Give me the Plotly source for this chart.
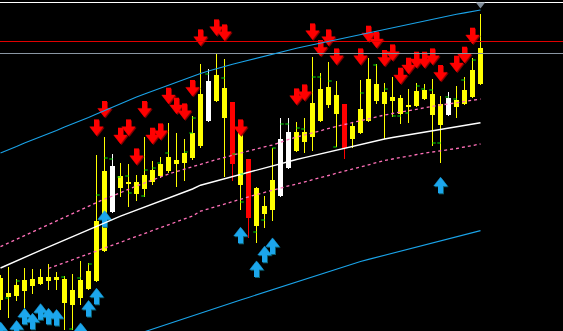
import plotly.graph_objects as go

# ---------------- data ----------------
bar_index = list(range(61))
open_ = [31, 34, 35, 40, 45, 47, 50, 51, 28, 26, 33, 42, 50, 80, 165, 143, 147, 137, 142, 149,
         155, 160, 167, 168, 173, 185, 250, 230, 213, 229, 146, 172, 105, 117, 121, 192, 199, 180, 189, 194,
         210, 226, 217, 227, 192, 198, 210, 230, 227, 230, 217, 224, 225, 232, 216, 206, 233, 224, 227, 234, 247]
high = [56, 64, 52, 63, 62, 62, 67, 59, 55, 57, 70, 68, 176, 194, 177, 168, 167, 156, 194, 170,
        174, 208, 198, 192, 215, 267, 262, 277, 272, 229, 205, 172, 144, 135, 183, 213, 213, 209, 213, 274,
        258, 269, 250, 227, 208, 251, 273, 267, 248, 254, 236, 242, 248, 247, 252, 235, 239, 245, 254, 273, 317]
low = [21, 13, 30, 23, 37, 46, 41, 41, 1, 1, 26, 41, 49, 79, 118, 134, 124, 130, 134, 146,
       153, 158, 144, 150, 171, 183, 209, 229, 154, 150, 121, 93, 88, 103, 110, 134, 162, 179, 178, 180,
       209, 223, 184, 172, 183, 197, 209, 227, 192, 214, 207, 208, 224, 231, 185, 168, 215, 213, 226, 233, 246]
close = [53, 38, 46, 51, 52, 54, 54, 54, 52, 41, 51, 60, 110, 160, 119, 155, 149, 149, 156, 161,
         167, 174, 171, 178, 198, 237, 210, 256, 243, 167, 198, 113, 143, 125, 151, 135, 163, 199, 199, 228,
         242, 244, 236, 183, 205, 222, 252, 247, 239, 234, 233, 226, 240, 241, 237, 227, 216, 231, 241, 261, 283]
candle_kind = list("YYYYYYYYYYYYYYWYYYYYYYYYYYWYYRYRYYYWWYYYYYYRYYYYYYYYYYYYWYYYY")

upper_blue = [178, 181, 184.5, 188, 191, 194, 197, 200.5, 204, 207, 210, 213.5, 217, 220.5, 224, 227, 230.5, 234, 237, 240,
              243, 246, 249, 252, 255, 257.5, 260, 262.5, 264.7, 266.8, 268.8, 270.9, 272.9, 275, 277, 279.2, 281, 282.8, 284.5, 286.2,
              287.9, 289.6, 291.4, 293.1, 294.8, 296.5, 298.3, 300, 301.7, 303.4, 305.2, 306.9, 308.6, 310.4, 312.1, 313.8, 315.2, 316.7, 318.1, 319.6, 321]
lower_blue = [None] * 17 + [-3.4, -0.7, 1.9,
              4.6, 7.2, 9.8, 12.5, 15.1, 17.8, 20.4, 23, 25.7, 28.3, 31, 33.6, 36.2, 38.8, 41.4, 44, 46.6, 49.2, 51.8, 54.4,
              57.2, 59.8, 62.4, 65, 67.4, 69.5, 71.6, 73.7, 75.8, 77.8, 80, 82, 84.1, 86.2, 88.3, 90.4, 92.4, 94.4, 96.4, 98.4, 100.4]
middle = [63, 66.7, 70.2, 73.7, 77.1, 80.6, 84.1, 87.6, 91.1, 94.6, 98.1, 101.6, 105.1, 108.6, 111.9, 114.9, 117.9, 120.9, 123.9, 126.9,
          129.9, 132.9, 135.9, 138.9, 142, 145.8, 148, 150.1, 152.3, 154.5, 156.6, 158.8, 160.9, 163.1, 165.2, 167.4, 169.5, 171.5, 173.4, 175.3,
          177.2, 179, 180.9, 182.7, 184.6, 186.4, 188.2, 190.1, 192, 193.5, 194.9, 196.3, 197.6, 199, 200.3, 201.7, 203, 204.3, 205.7, 207, 208.3]
upper_pink = [84.3, 88, 91.7, 95.4, 99.1, 102.8, 106.5, 110.2, 113.9, 117.6, 121.3, 125, 128.7, 132, 135, 138.5, 141.7, 145, 148, 151.2,
              154, 157, 159.5, 162, 164.5, 167, 169.2, 171.4, 173.6, 175.8, 178, 180.2, 182.4, 184.2, 186, 189, 191.5, 194, 196.2, 198.5,
              200.7, 202.8, 204.5, 206.5, 208.5, 210.5, 212.5, 214.4, 216, 217.5, 219, 220.4, 221.8, 223, 224.5, 226, 227, 228.3, 229.7, 231, 232]
lower_pink = [None] * 6 + [62.5, 65.4, 68.3, 71.2, 74, 77, 80, 83, 86, 89, 92, 95, 97.7, 100.5,
              103.4, 106.2, 109, 111.8, 115, 119.8, 122.3, 124.7, 127.2, 129.5, 131.8, 134.1, 136.4, 138.7, 141, 143.3, 145.1, 147, 149, 151,
              153.2, 155.5, 157.8, 160.1, 162.2, 164.1, 166.2, 168.4, 170.5, 172, 173.6, 175.2, 176.5, 177.8, 179, 180, 181.2, 182.5, 184, 185.5, 187]

sell_idx = [12, 13, 15, 16, 17, 18, 19, 20, 21, 22, 23, 24, 25, 27, 28, 30, 37, 38, 39, 40,
            41, 42, 45, 46, 47, 48, 49, 50, 51, 52, 53, 54, 55, 57, 58, 59]
sell_val = [203.3, 221.7, 195, 203.3, 174.3, 221.7, 195, 199.3, 235, 225, 219.3, 242.7, 293.3, 303.3, 298.3, 203.3, 234.3, 238.3, 299.3, 282.7,
            293.3, 274.3, 274.3, 297, 291, 272.7, 278.3, 255, 265, 271, 271, 274.3, 257.7, 267, 276, 295]
buy_idx = [0, 2, 3, 4, 5, 6, 7, 10, 11, 12, 13, 30, 32, 33, 34, 55]
buy_val = [1.3, 2.7, 15, 10, 19.5, 15, 13.7, 0.3, 22.7, 35, 112.5, 96, 62.3, 77, 85.3, 146]

# small green marks beside candles: bar, side (-1 left / +1 right), value
tick_idx = [1, 2, 8, 9, 10, 11, 12, 13, 14, 15, 16, 16, 18, 18, 19, 20, 21, 23, 24, 24,
            26, 28, 29, 30, 30, 32, 33, 34, 35, 36, 37, 38, 39, 40, 41, 42, 45, 47, 48, 49,
            50, 51, 52, 53, 54, 54, 55, 56, 57, 58, 59]
tick_side = [-1, 1, -1, -1, -1, 1, 1, 1, -1, -1, -1, 1, -1, 1, 1, -1, -1, 1, -1, 1,
             -1, -1, 1, 1, 1, -1, -1, 1, 1, -1, 1, -1, 1, -1, 1, -1, 1, -1, 1, 1,
             -1, -1, 1, -1, -1, 1, -1, -1, -1, -1, 1]
tick_val = [33, 50, 54, 2, 53, 67, 136, 173, 172, 154, 155, 138, 135, 161, 163, 168, 178, 179, 198, 213,
            257, 253, 177, 157, 129, 99, 111, 183, 207, 207, 203, 202, 254, 254, 250, 184, 238, 266, 242, 215,
            215, 218, 245, 242, 241, 188, 188, 234, 232, 251, 271]

level_values = [328.5, 289.5, 277.5]
level_colors = ["#FFFFFF", "#E00000", "#8A96A3"]
shift_marker_index = [60]
shift_marker_value = [326.4]

# ---------------- styling ----------------
KIND_COLOR = {"Y": "#FFFF00", "W": "#FFFFFF", "R": "#FF0000"}
colors = [KIND_COLOR[c] for c in candle_kind]
body_base = [min(o, c) for o, c in zip(open_, close)]
body_h = [abs(c - o) for o, c in zip(open_, close)]
wick_h = [h - l for h, l in zip(high, low)]

PX = 1 / 8.0  # one pixel in x units
X_LO, X_HI = -0.0625, 70.3125

fig = go.Figure()


def add_arrows(idx, val, down, color, shadow):
    sgn = -1 if down else 1
    head_sym = "triangle-down" if down else "triangle-up"
    for dx, dy, col in ((PX, -1.0, shadow), (0, 0, color)):
        xs = [i + dx for i in idx]
        fig.add_trace(go.Scatter(
            x=xs, y=[v + dy - sgn * 3.4 for v in val], mode="markers",
            marker=dict(symbol="line-ns", size=7, line=dict(width=5, color=col))))
        fig.add_trace(go.Scatter(
            x=xs, y=[v + dy + sgn * 2.0 for v in val], mode="markers",
            marker=dict(symbol=head_sym, size=11.6, color=col, line=dict(width=0.5, color=col))))


# arrows (behind everything else)
add_arrows(sell_idx, sell_val, True, "#FF0000", "#8A0000")
add_arrows(buy_idx, buy_val, False, "#1CA6EC", "#0B5F70")

# horizontal levels
for v, c in zip(level_values, level_colors):
    fig.add_trace(go.Scatter(x=[X_LO, X_HI], y=[v, v], mode="lines", line=dict(color=c, width=1)))

# band lines
fig.add_trace(go.Scatter(x=bar_index, y=upper_blue, mode="lines", line=dict(color="#1AA3E8", width=1.1)))
fig.add_trace(go.Scatter(x=bar_index, y=lower_blue, mode="lines", line=dict(color="#1AA3E8", width=1.1)))
fig.add_trace(go.Scatter(x=bar_index, y=upper_pink, mode="lines", line=dict(color="#FF70B8", width=1.3, dash="3px,3px")))
fig.add_trace(go.Scatter(x=bar_index, y=lower_pink, mode="lines", line=dict(color="#FF70B8", width=1.3, dash="3px,3px")))
fig.add_trace(go.Scatter(x=bar_index, y=middle, mode="lines", line=dict(color="#FFFFFF", width=1.4)))

# candles (foreground)
fig.add_trace(go.Bar(x=bar_index, y=wick_h, base=low, width=PX, marker=dict(color=colors, line=dict(width=0))))
fig.add_trace(go.Bar(x=bar_index, y=body_h, base=body_base, width=5 * PX, marker=dict(color=colors, line=dict(width=0))))

# green marks
fig.add_trace(go.Scatter(x=[i + s * 1.5 * PX for i, s in zip(tick_idx, tick_side)], y=tick_val, mode="markers",
                         marker=dict(symbol="line-ew", size=2.5, line=dict(width=1, color="#00E000"))))

# chart-shift marker
fig.add_trace(go.Scatter(x=shift_marker_index, y=shift_marker_value, mode="markers",
                         marker=dict(symbol="triangle-down", size=8, color="#7F8B98", line=dict(width=0))))

fig.update_layout(
    width=563, height=331, margin=dict(l=0, r=0, t=0, b=0),
    paper_bgcolor="#000000", plot_bgcolor="#000000",
    showlegend=False, barmode="overlay", bargap=0,
    xaxis=dict(range=[X_LO, X_HI], visible=False, showgrid=False, zeroline=False),
    yaxis=dict(range=[0, 331], visible=False, showgrid=False, zeroline=False),
)

fig.write_html("out.html", config={"displayModeBar": False})
